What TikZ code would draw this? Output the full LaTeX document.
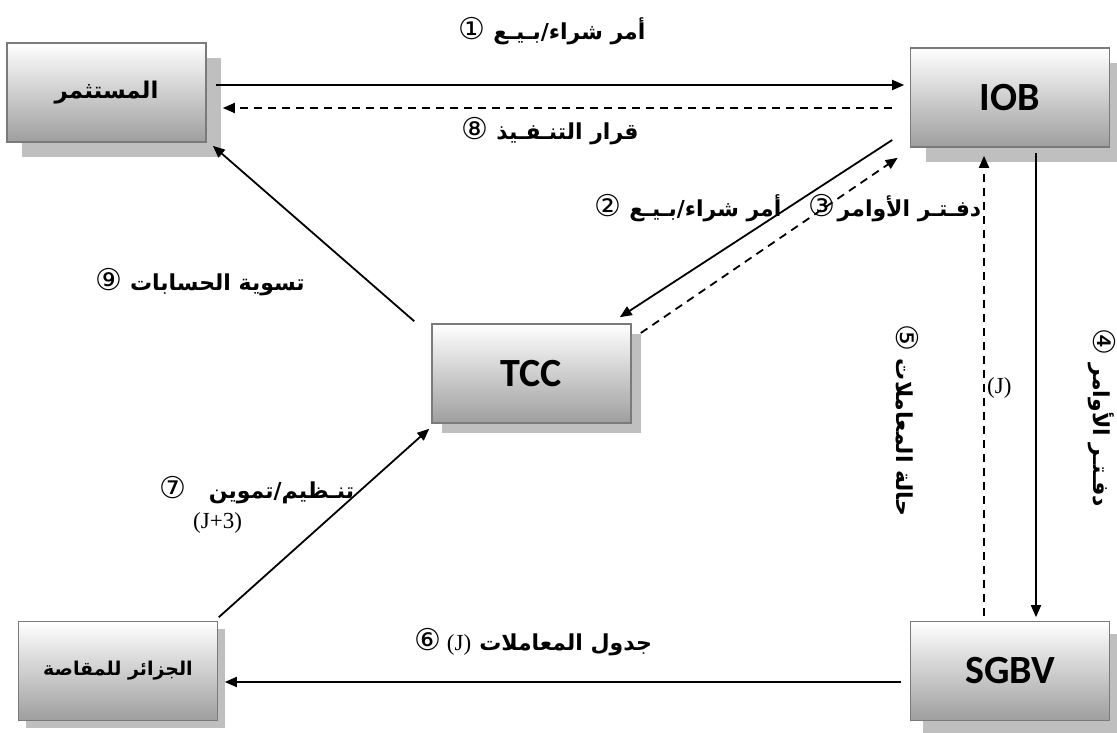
\documentclass[tikz,border=0pt]{standalone}
\usepackage{fontspec}
\usetikzlibrary{arrows.meta,shadows}
\TeXXeTstate=1
\newfontfamily\arabicfont[Script=Arabic]{DejaVu Sans}
\newfontfamily\circfont{DejaVu Sans}
\newfontfamily\boxfont{Carlito}
\newfontfamily\serfont{Liberation Serif}
\newcommand{\AR}[1]{{\arabicfont\bfseries\beginR #1\endR}}
\newcommand{\CN}[1]{{\circfont\fontsize{30}{32}\selectfont #1}}
\tikzset{
  box/.style={draw=black!52, line width=1.6pt, minimum width=199pt, minimum height=99pt,
    inner sep=0pt, top color=white, bottom color=black!38,
    drop shadow={shadow xshift=#1, shadow yshift=-#1, fill=black!25, opacity=1}},
  box/.default=12pt,
  latin/.style={font=\boxfont\bfseries\fontsize{40}{44}\selectfont},
  arr/.style={line width=1.8pt, -{Triangle[length=12pt,width=10pt]}},
  dsh/.style={arr, dash pattern=on 8pt off 6pt},
  lab/.style={font=\fontsize{22}{26}\selectfont, inner sep=0pt},
  jlab/.style={font=\serfont\fontsize{23}{25}\selectfont, inner sep=0pt}
}
\begin{document}
\begin{tikzpicture}[x=1pt,y=-1pt]
\useasboundingbox (0,0) rectangle (1117,733);
% boxes
\node[box=15pt, font=\fontsize{23}{26}\selectfont] (inv) at (106.5,92.5) {\AR{المستثمر}};
\node[box=15pt, latin] (iob) at (1010,97.5) {IOB};
\node[box=10pt, latin] (tcc) at (531.5,373.5) {TCC};
\node[box=7pt, font=\fontsize{19}{22}\selectfont] (alg) at (118,671) {\AR{الجزائر للمقاصة}};
\node[box=12pt, latin] (sgbv) at (1010,671) {SGBV};
% connectors
\draw[arr] ([xshift=9pt,yshift=7.5pt]inv.east) -- ([xshift=-5.5pt,yshift=12.5pt]iob.west);
\draw[dsh] ([xshift=-17.5pt,yshift=-10.5pt]iob.west) -- ([xshift=16pt,yshift=-15.5pt]inv.east);
\draw[arr] ([xshift=-17.5pt,yshift=-42.5pt]iob.west) -- ([xshift=-12pt,yshift=6pt]tcc.north east);
\draw[dsh] ([xshift=9pt,yshift=40.5pt]tcc.east) -- ([xshift=-12pt,yshift=-10pt]iob.south west);
\draw[arr] ([xshift=26pt,yshift=-5pt]iob.south) -- ([xshift=26pt,yshift=3.5pt]sgbv.north);
\draw[dsh] ([xshift=-26pt,yshift=4.5pt]sgbv.north) -- ([xshift=-26pt,yshift=-8pt]iob.south);
\draw[arr] ([xshift=-8.5pt,yshift=-11pt]sgbv.west) -- ([xshift=6.5pt,yshift=-11pt]alg.east);
\draw[arr] ([xshift=0.5pt,yshift=3.5pt]alg.north east) -- ([xshift=-2pt,yshift=-5pt]tcc.south west);
\draw[arr] ([xshift=-17pt,yshift=2pt]tcc.north west) -- ([xshift=6pt,yshift=-3pt]inv.south east);
% labels
\node[lab] (l1) at (552,31) {\CN{①}\hspace{8pt}\AR{أمر شراء/بـيـع}};
\node[lab] (l8) at (550,131) {\CN{⑧}\hspace{8pt}\AR{قرار التنـفـيذ}};
\node[lab] (l2) at (688,208) {\CN{②}\hspace{8pt}\AR{أمر شراء/بـيـع}};
\node[lab] (l3) at (895,208) {\CN{③}\hspace{2pt}\AR{دفـتـر الأوامر}};
\node[lab] (l9) at (200,282) {\CN{⑨}\hspace{8pt}\AR{تسوية الحسابات}};
\node[lab] (l6) at (533,642) {\CN{⑥}\hspace{6pt}{\serfont\fontsize{23}{25}\selectfont (J)}\hspace{8pt}\AR{جدول المعاملات}};
\node[lab, rotate=-90] (l5) at (907,420) {\CN{⑤}\hspace{8pt}\AR{حالة المعاملات}};
\node[lab, rotate=-90] (l4) at (1102,418) {\CN{④}\hspace{8pt}\AR{دفـتـر الأوامر}};
\node[jlab, anchor=west] (lj) at (987,388) {(J)};
\node[lab] (l7) at (257,490) {\CN{⑦}\hspace{22pt}\AR{تنـظيم/تموين}};
\node[jlab, anchor=west] (l7b) at (193,523) {(J+3)};
\end{tikzpicture}
\end{document}
